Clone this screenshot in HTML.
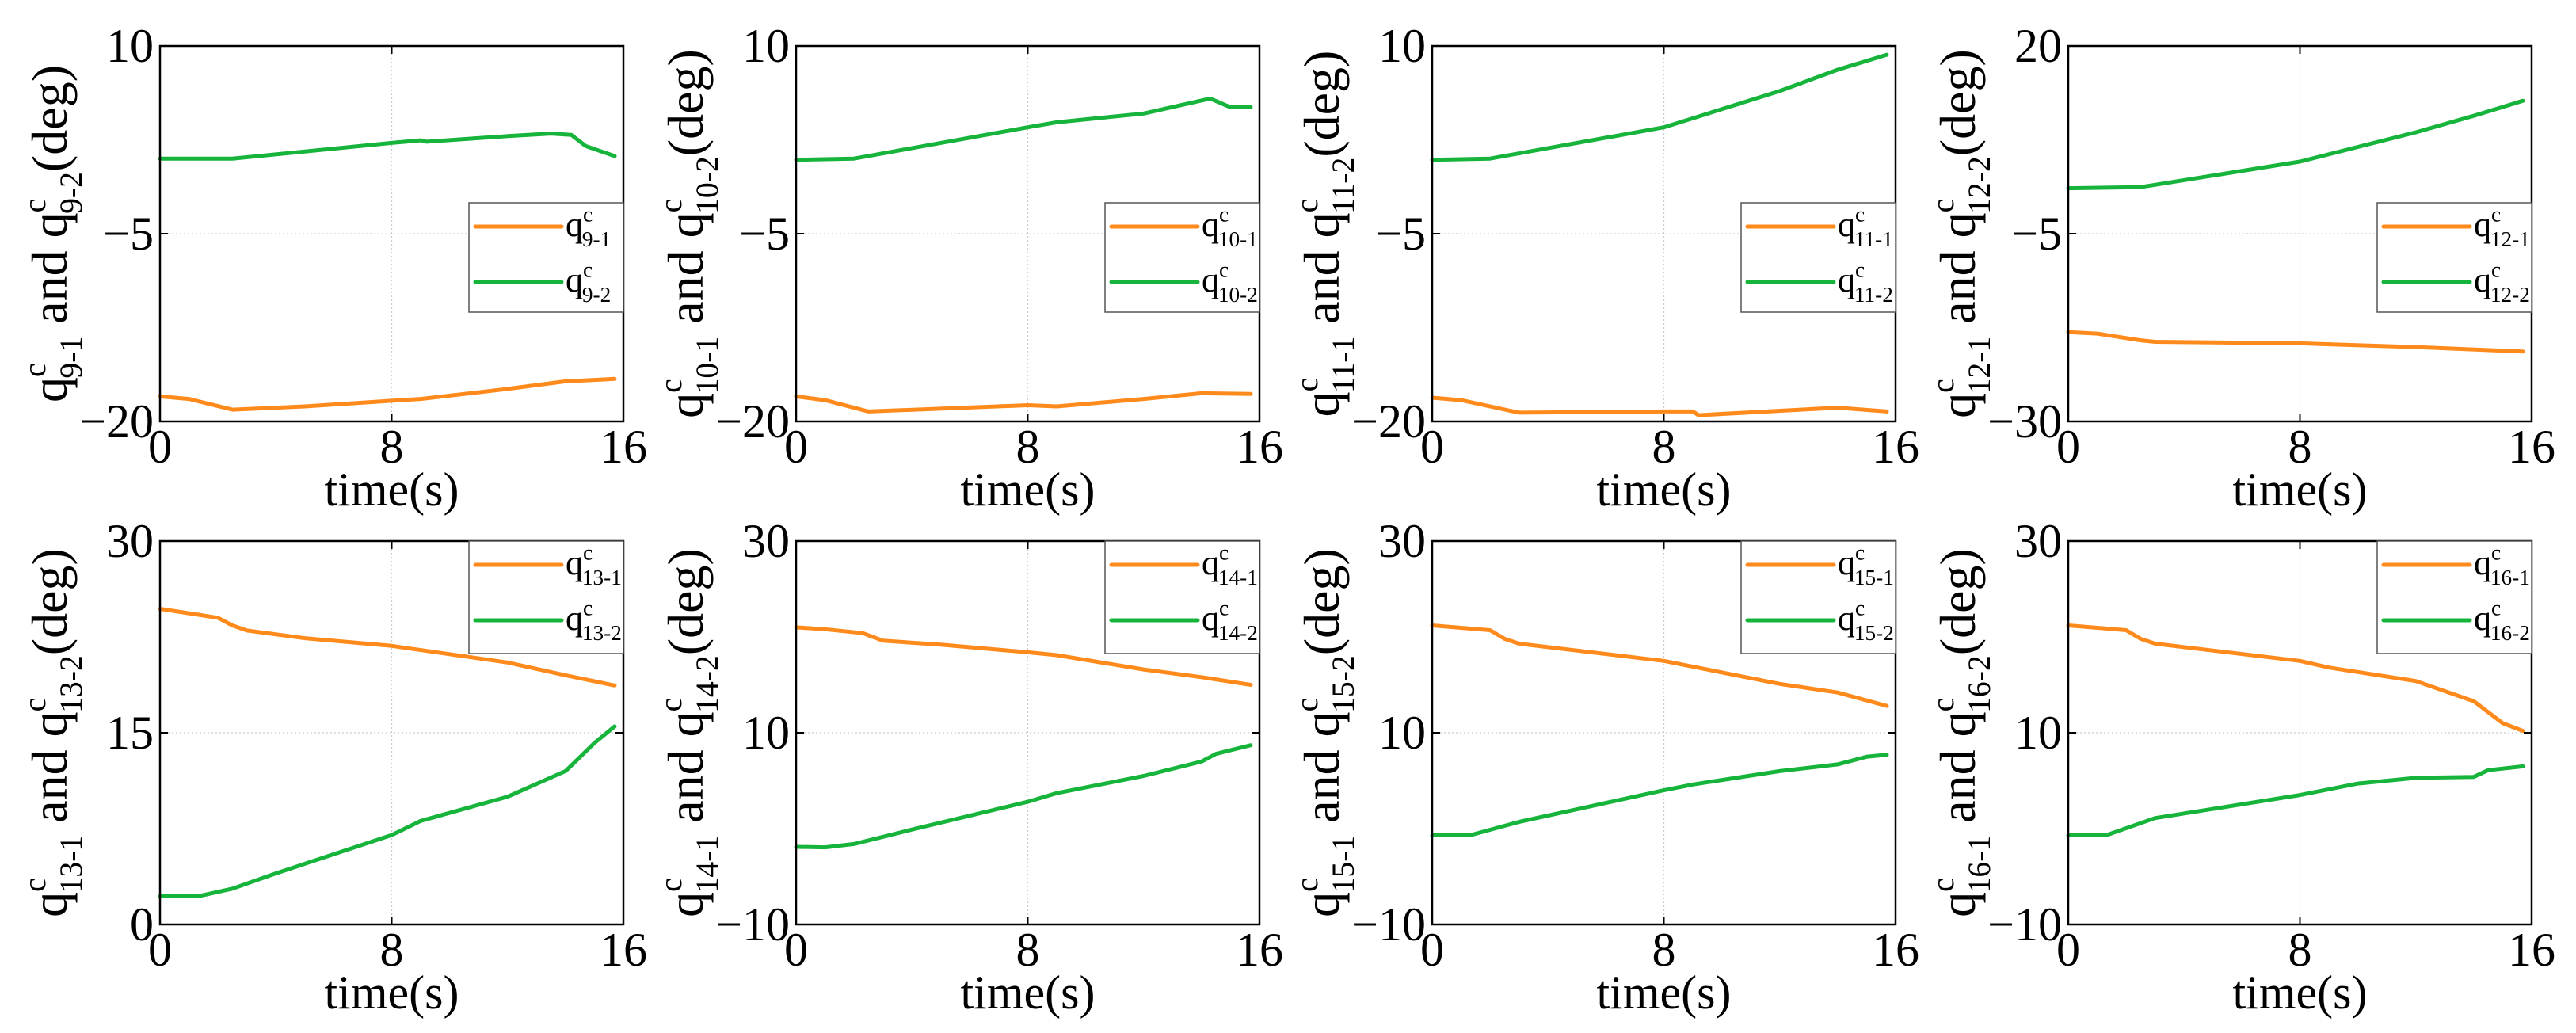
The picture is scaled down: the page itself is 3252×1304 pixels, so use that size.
<!DOCTYPE html>
<html><head><meta charset="utf-8">
<style>
html,body{margin:0;padding:0;background:#fff;}
svg{display:block;font-family:"Liberation Serif",serif;}
</style></head>
<body>
<svg id="chart" width="3252" height="1304" viewBox="0 0 3252 1304" xmlns="http://www.w3.org/2000/svg"></svg>
<script>
// ---- data (time in s, values in deg) ----
const panelIds = ["9","10","11","12","13","14","15","16"];
const yMins = [-20,-20,-20,-30,0,-10,-10,-10];
const yMaxs = [10,10,10,20,30,30,30,30];
const xTicks = [0,8,16];
const t1_9 = [0,1,2.5,5,8,9,12,14,15.7];
const s1_9 = [-18.0,-18.2,-19.06,-18.8,-18.35,-18.2,-17.4,-16.8,-16.6];
const t2_9 = [0,2.5,8,9,9.2,12,13.5,14.2,14.7,15.7];
const s2_9 = [1.0,1.0,2.25,2.46,2.35,2.8,3.0,2.9,2.0,1.2];
const t1_10 = [0,1,2.5,8,9,12,14,15.7];
const s1_10 = [-18.0,-18.3,-19.2,-18.7,-18.8,-18.2,-17.75,-17.8];
const t2_10 = [0,2,8,9,12,14.3,15,15.7];
const s2_10 = [0.9,1.0,3.5,3.9,4.6,5.8,5.1,5.1];
const t1_11 = [0,1,3,8,9,9.2,14,15.7];
const s1_11 = [-18.1,-18.3,-19.3,-19.2,-19.2,-19.5,-18.9,-19.2];
const t2_11 = [0,2,8,12,14,15.7];
const s2_11 = [0.9,1.0,3.5,6.4,8.1,9.3];
const t1_12 = [0,1,2.5,3,8,12,15.7];
const s1_12 = [-18.1,-18.3,-19.2,-19.4,-19.6,-20.1,-20.7];
const t2_12 = [0,2.5,8,12,14,15.7];
const s2_12 = [1.06,1.2,4.6,8.5,10.7,12.7];
const t1_13 = [0,2,2.5,3,5,8,12,14,15.7];
const s1_13 = [24.7,24.0,23.4,23.0,22.4,21.8,20.5,19.5,18.7];
const t2_13 = [0,1.3,2.5,4,8,9,12,14,15,15.7];
const s2_13 = [2.2,2.2,2.8,4.0,7.0,8.1,10.0,12.0,14.2,15.5];
const t1_14 = [0,1,2.3,3,5,8,9,12,14,15.7];
const s1_14 = [21.0,20.8,20.4,19.6,19.2,18.4,18.1,16.6,15.8,15.0];
const t2_14 = [0,1,2,4,8,9,12,14,14.5,15.7];
const s2_14 = [-1.9,-1.95,-1.6,-0.1,2.8,3.7,5.5,7.0,7.8,8.7];
const t1_15 = [0,2,2.5,3,8,12,14,15.7];
const s1_15 = [21.2,20.7,19.8,19.3,17.5,15.1,14.2,12.8];
const t2_15 = [0,1.3,3,8,9,12,14,15,15.7];
const s2_15 = [-0.7,-0.7,0.7,4.0,4.6,6.0,6.7,7.5,7.7];
const t1_16 = [0,2,2.5,3,8,9,12,14,15,15.7];
const s1_16 = [21.2,20.7,19.8,19.3,17.5,16.8,15.4,13.3,11.0,10.2];
const t2_16 = [0,1.3,3,8,10,12,14,14.5,15.7];
const s2_16 = [-0.7,-0.7,1.1,3.5,4.7,5.3,5.4,6.1,6.5];
const series1T = [t1_9,t1_10,t1_11,t1_12,t1_13,t1_14,t1_15,t1_16];
const series1V = [s1_9,s1_10,s1_11,s1_12,s1_13,s1_14,s1_15,s1_16];
const series2T = [t2_9,t2_10,t2_11,t2_12,t2_13,t2_14,t2_15,t2_16];
const series2V = [s2_9,s2_10,s2_11,s2_12,s2_13,s2_14,s2_15,s2_16];

const NS="http://www.w3.org/2000/svg";
const svg=document.getElementById('chart');
const ORANGE="#FF8A1C", GREEN="#17B43C";
const lefts=[202,1005,1808,2611], W=585;
const rows=[{top:58,bottom:532},{top:683,bottom:1167}];
function mk(tag,attrs,parent){const e=document.createElementNS(NS,tag);for(const k in attrs)e.setAttribute(k,attrs[k]);(parent||svg).appendChild(e);return e;}
function qLabel(parent,id,idx,size){
  const t1=mk('tspan',{},parent);t1.textContent='q';
  const sup=mk('tspan',{'font-size':size*0.62,dy:-size*0.42},parent);sup.textContent='c';
  const sub=mk('tspan',{'font-size':size*0.62,dx:-size*0.3,dy:size*0.72},parent);sub.textContent=id+'-'+idx;
  const back=mk('tspan',{dy:-size*0.3},parent);back.textContent='\u200b';
}
for(let p=0;p<8;p++){
  const r=rows[Math.floor(p/4)], L=lefts[p%4], R=L+W, T=r.top, B=r.bottom;
  const ymin=yMins[p], ymax=yMaxs[p], id=panelIds[p];
  const xs=t=>L+t/16*W, ys=v=>B-(v-ymin)/(ymax-ymin)*(B-T);
  const g=mk('g',{});
  
  
  const ymid=(ymin+ymax)/2;
  const gx=mk('line',{x1:xs(8),x2:xs(8),y1:T,y2:B,stroke:'#ccc','stroke-width':1.2,'stroke-dasharray':'2 3'},g);
  
  const gy=mk('line',{x1:L,x2:R,y1:ys(ymid),y2:ys(ymid),stroke:'#ccc','stroke-width':1.2,'stroke-dasharray':'2 3'},g);
  
  const mkLine=(T_,V_,col,nm)=>{
    let d=T_.map((t,i)=>(i?'L':'M')+xs(t).toFixed(1)+','+ys(V_[i]).toFixed(1)).join(' ');
    const pth=mk('path',{d:d,fill:'none',stroke:col,'stroke-width':5,'stroke-linejoin':'round','stroke-linecap':'round'},g);
    
  };
  mkLine(series1T[p],series1V[p],ORANGE,'series-q'+id+'-1');
  mkLine(series2T[p],series2V[p],GREEN,'series-q'+id+'-2');
  const fr=mk('rect',{x:L,y:T,width:W,height:B-T,fill:'none',stroke:'#000','stroke-width':2.5},g);
  
  const yt=[ymin,ymid,ymax];
  yt.forEach(v=>{
    mk('line',{x1:L,x2:L+10,y1:ys(v),y2:ys(v),stroke:'#000','stroke-width':2},g);
    mk('line',{x1:R,x2:R-10,y1:ys(v),y2:ys(v),stroke:'#000','stroke-width':2},g);
    const tx=mk('text',{x:L-8,y:ys(v)+20,'font-size':60,'text-anchor':'end'},g);
    tx.textContent=(v<0?'\u2212'+(-v):String(v));
    
  });
  xTicks.forEach(v=>{
    mk('line',{x1:xs(v),x2:xs(v),y1:B,y2:B-10,stroke:'#000','stroke-width':2},g);
    mk('line',{x1:xs(v),x2:xs(v),y1:T,y2:T+10,stroke:'#000','stroke-width':2},g);
    const tx=mk('text',{x:xs(v),y:B+52,'font-size':60,'text-anchor':'middle'},g);
    tx.textContent=String(v);
    
  });
  const xl=mk('text',{x:L+W/2,y:B+106,'font-size':60,'text-anchor':'middle'},g);
  xl.textContent='time(s)';
  
  const yl=mk('text',{transform:'translate('+(L-118)+','+((T+B)/2)+') rotate(-90)','font-size':64,'text-anchor':'middle'},g);
  
  qLabel(yl,id,1,64);
  const a=mk('tspan',{},yl);a.textContent=' and ';
  qLabel(yl,id,2,64);
  const dg=mk('tspan',{},yl);dg.textContent='(deg)';
  const lx=R-195, lw=195, ly=(p<4)?T+198:T, lh=(p<4)?138:142;
  const lg=mk('g',{},g);
  
  mk('rect',{x:lx,y:ly,width:lw,height:lh,fill:'#fff',stroke:'#555','stroke-width':1.5},lg);
  [[ORANGE,1],[GREEN,2]].forEach(([c,k],i)=>{
    const cy=ly+30+i*70;
    const ent=mk('g',{},lg);
    
    mk('line',{x1:lx+8,x2:lx+117,y1:cy,y2:cy,stroke:c,'stroke-width':5,'stroke-linecap':'round'},ent);
    const lt=mk('text',{x:lx+122,y:cy+12,'font-size':44},ent);
    qLabel(lt,id,k,44);
  });
}
</script>
</body></html>
